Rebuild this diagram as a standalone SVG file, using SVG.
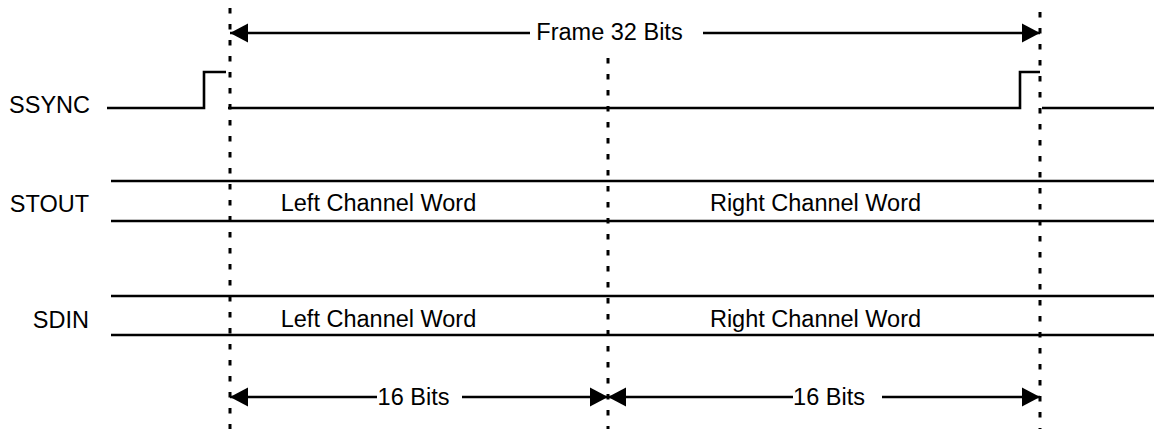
<svg xmlns="http://www.w3.org/2000/svg" width="1154" height="429" viewBox="0 0 1154 429">
<style>
text{font-family:"Liberation Sans",Arial,sans-serif;font-size:23.5px;fill:#000}
.sig{fill:none;stroke:#000;stroke-width:2.6}
.dash{fill:none;stroke:#000;stroke-width:3;stroke-dasharray:5.5 10.5}
.arr{fill:none;stroke:#000;stroke-width:2.6}
.lbl{text-anchor:end}
.mid{text-anchor:middle}
</style>
<defs>
<marker id="ah" markerUnits="userSpaceOnUse" markerWidth="18" markerHeight="20" refX="18" refY="9.5" orient="auto-start-reverse" viewBox="0 0 18 19">
<path d="M0,0 L18,9.5 L0,19 z" fill="#000"/>
</marker>
</defs>
<rect width="1154" height="429" fill="#fff"/>
<g id="connectors">
<line class="dash" x1="230" y1="8" x2="230" y2="429"/>
<line class="dash" x1="608" y1="58" x2="608" y2="429"/>
<line class="dash" x1="1040" y1="12" x2="1040" y2="429"/>
<line class="arr" x1="230" y1="33" x2="530" y2="33" marker-start="url(#ah)"/>
<line class="arr" x1="703" y1="33" x2="1040" y2="33" marker-end="url(#ah)"/>
<line class="arr" x1="230" y1="397" x2="377" y2="397" marker-start="url(#ah)"/>
<line class="arr" x1="462" y1="397" x2="608" y2="397" marker-end="url(#ah)"/>
<line class="arr" x1="608" y1="397" x2="793" y2="397" marker-start="url(#ah)"/>
<line class="arr" x1="882" y1="397" x2="1040" y2="397" marker-end="url(#ah)"/>
<text class="mid" x="609.5" y="40">Frame 32 Bits</text>
<text class="mid" x="413.5" y="405">16 Bits</text>
<text class="mid" x="829" y="405">16 Bits</text>
</g>
<g id="ssync">
<text class="lbl" x="90" y="113">SSYNC</text>
<polyline class="sig" points="107,108 204,108 204,72 226,72"/>
<polyline class="sig" points="228,108 1020,108 1020,72 1040,72"/>
<line class="sig" x1="1042" y1="108" x2="1154" y2="108"/>
</g>
<g id="stout">
<text class="lbl" x="89" y="212">STOUT</text>
<line class="sig" x1="111" y1="181" x2="1154" y2="181"/>
<line class="sig" x1="111" y1="221" x2="1154" y2="221"/>
<text class="mid" x="378.5" y="211">Left Channel Word</text>
<text class="mid" x="815.5" y="211">Right Channel Word</text>
</g>
<g id="sdin">
<text class="lbl" x="89" y="328">SDIN</text>
<line class="sig" x1="111" y1="296" x2="1154" y2="296"/>
<line class="sig" x1="111" y1="335" x2="1154" y2="335"/>
<text class="mid" x="378.5" y="327">Left Channel Word</text>
<text class="mid" x="815.5" y="327">Right Channel Word</text>
</g>
</svg>
